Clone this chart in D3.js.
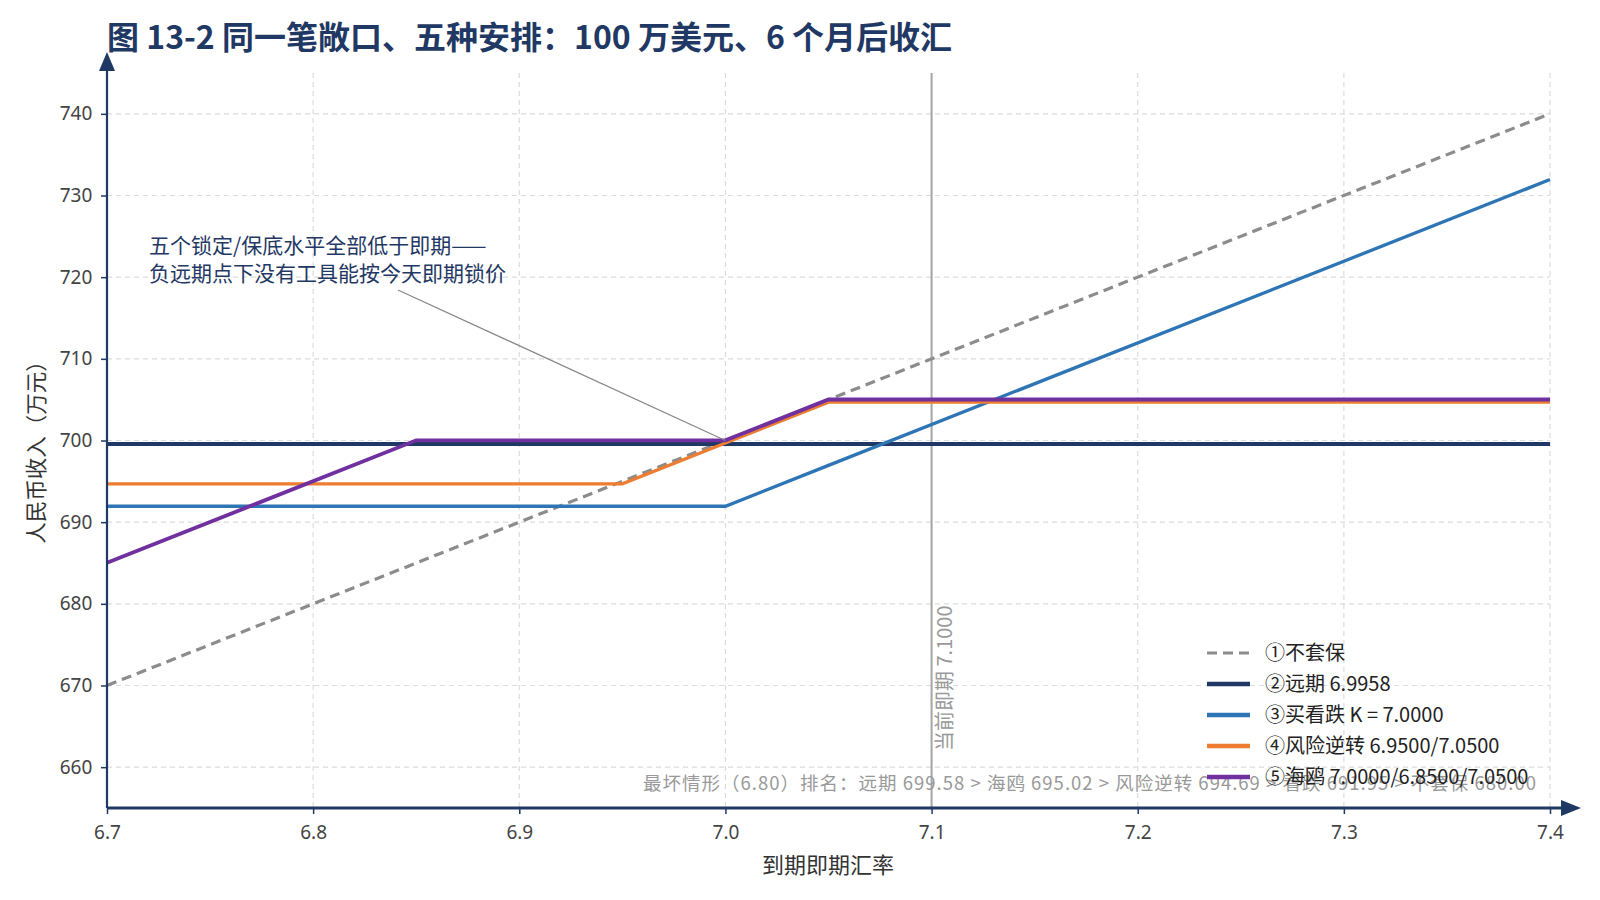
<!DOCTYPE html>
<html><head><meta charset="utf-8">
<script src="https://cdn.jsdelivr.net/npm/d3@7"></script>
<style>
body{margin:0;background:#fff;overflow:hidden;}
svg{display:block;font-family:"Noto Sans CJK SC","Noto Sans",sans-serif;}
</style></head>
<body><svg id="c" width="1600" height="900"></svg>
<script>
const rates = [6.70, 6.85, 6.95, 7.00, 7.05, 7.40];
const unhedged = [670, 685, 695, 700, 705, 740];
const forward = [699.58, 699.58, 699.58, 699.58, 699.58, 699.58];
const buyPut = [691.95, 691.95, 691.95, 691.95, 696.95, 731.95];
const riskReversal = [694.69, 694.69, 694.69, 699.69, 704.69, 704.69];
const seagull = [685.02, 700.02, 700.02, 700.02, 705.02, 705.02];
const seriesNames = ["①不套保", "②远期 6.9958", "③买看跌 K = 7.0000", "④风险逆转 6.9500/7.0500", "⑤海鸥 7.0000/6.8500/7.0500"];
const xTicks = [6.7, 6.8, 6.9, 7.0, 7.1, 7.2, 7.3, 7.4];
const yTicks = [660, 670, 680, 690, 700, 710, 720, 730, 740];
const spotNow = 7.1;
const spotLabel = "当前即期 7.1000";
const title = "图 13-2 同一笔敞口、五种安排：100 万美元、6 个月后收汇";
const note = ["五个锁定/保底水平全部低于即期——", "负远期点下没有工具能按今天即期锁价"];
const noteTarget = [7.0, 700];
const worstText = "最坏情形（6.80）排名：远期 699.58 > 海鸥 695.02 > 风险逆转 694.69 > 看跌 691.95 > 不套保 680.00";

const series = [
  {name: seriesNames[0], vals: unhedged, color: "#8c8c8c", w: 3.2, dash: "10,6"},
  {name: seriesNames[1], vals: forward, color: "#1f3864", w: 4, dash: null},
  {name: seriesNames[2], vals: buyPut, color: "#2e75b6", w: 3.3, dash: null},
  {name: seriesNames[3], vals: riskReversal, color: "#ed7d31", w: 3.3, dash: null},
  {name: seriesNames[4], vals: seagull, color: "#7030a0", w: 3.8, dash: null}
];

const svg = d3.select("#c");
const L = 107, R = 1550, T = 73, B = 808;
const x = d3.scaleLinear().domain([6.7, 7.4]).range([L, R]);
const y = d3.scaleLinear().domain([655, 745]).range([B, T]);
const navy = "#1f3864";

// grid
svg.append("g").selectAll("line").data(xTicks).join("line")
  .attr("x1", d => x(d)).attr("x2", d => x(d)).attr("y1", T).attr("y2", B)
  .attr("stroke", "#dcdcdc").attr("stroke-width", 1.2).attr("stroke-dasharray", "5,4");
svg.append("g").selectAll("line").data(yTicks).join("line")
  .attr("x1", L).attr("x2", R).attr("y1", d => y(d)).attr("y2", d => y(d))
  .attr("stroke", "#dcdcdc").attr("stroke-width", 1.2).attr("stroke-dasharray", "5,4");

// spot line
svg.append("line").attr("x1", x(spotNow)).attr("x2", x(spotNow)).attr("y1", T).attr("y2", B)
  .attr("stroke", "#a6a6a6").attr("stroke-width", 2);
svg.append("text").attr("transform", `translate(${x(spotNow) + 20},${751}) rotate(-90)`)
  .attr("fill", "#999").attr("font-size", 20).text(spotLabel);

// worst case text
svg.append("text").attr("x", 643).attr("y", 790)
  .attr("fill", "#999").attr("font-size", 18.5)
  .attr("textLength", 893).attr("lengthAdjust", "spacing").text(worstText);

// series
const line = d3.line().x((d, i) => x(rates[i])).y(d => y(d));
series.forEach(s => {
  svg.append("path").attr("d", line(s.vals)).attr("fill", "none")
    .attr("stroke", s.color).attr("stroke-width", s.w)
    .attr("stroke-dasharray", s.dash).attr("stroke-linejoin", "miter");
});

// annotation
svg.append("line").attr("x1", 398).attr("y1", 290).attr("x2", x(noteTarget[0])).attr("y2", y(noteTarget[1]))
  .attr("stroke", "#888").attr("stroke-width", 1.3);
note.forEach((t, i) => {
  svg.append("text").attr("x", 149).attr("y", 253 + i * 28).attr("fill", navy)
    .attr("font-size", 21).text(t);
});

// axes
const xAxis = d3.axisBottom(x).tickValues(xTicks).tickFormat(d3.format(".1f")).tickSize(6).tickSizeOuter(0);
const gx = svg.append("g").attr("transform", `translate(0,${B})`).call(xAxis);
gx.select(".domain").remove();
gx.selectAll(".tick line").attr("stroke", navy).attr("stroke-width", 1.5);
gx.selectAll(".tick text").attr("fill", "#444").attr("font-size", 19).attr("dy", "1.15em")
  .attr("font-family", "\"Noto Sans\",sans-serif");
const yAxis = d3.axisLeft(y).tickValues(yTicks).tickSize(6).tickSizeOuter(0);
const gy = svg.append("g").attr("transform", `translate(${L},0)`).call(yAxis);
gy.select(".domain").remove();
gy.selectAll(".tick line").attr("stroke", navy).attr("stroke-width", 1.5);
gy.selectAll(".tick text").attr("fill", "#444").attr("font-size", 19).attr("dx", "-0.3em")
  .attr("font-family", "\"Noto Sans\",sans-serif");

svg.append("line").attr("x1", L).attr("x2", 1565).attr("y1", B).attr("y2", B)
  .attr("stroke", navy).attr("stroke-width", 3);
svg.append("path").attr("d", `M1581,${B} L1561,${B - 8} L1561,${B + 8} Z`).attr("fill", navy);
svg.append("line").attr("x1", L).attr("x2", L).attr("y1", B).attr("y2", 68)
  .attr("stroke", navy).attr("stroke-width", 2.2);
svg.append("path").attr("d", `M${L},52 L${L - 8},71 L${L + 8},71 Z`).attr("fill", navy);

// axis labels
svg.append("text").attr("x", 828).attr("y", 873).attr("text-anchor", "middle")
  .attr("fill", "#333").attr("font-size", 22).text("到期即期汇率");
svg.append("text").attr("transform", `translate(44,447) rotate(-90)`)
  .attr("text-anchor", "middle").attr("fill", "#333").attr("font-size", 21.5).text("人民币收入（万元）");

// title
svg.append("text").attr("x", 107).attr("y", 49).attr("fill", navy).attr("font-size", 32)
  .attr("font-weight", "bold").text(title);

// legend
const lg = svg.append("g");
series.forEach((s, i) => {
  const yy = 653 + i * 31;
  lg.append("line").attr("x1", 1207).attr("x2", 1250).attr("y1", yy).attr("y2", yy)
    .attr("stroke", s.color).attr("stroke-width", s.dash ? 3.2 : 4.5).attr("stroke-dasharray", s.dash);
  lg.append("text").attr("x", 1265).attr("y", yy + 7).attr("fill", "#222").attr("font-size", 20).text(s.name);
});
</script></body></html>
